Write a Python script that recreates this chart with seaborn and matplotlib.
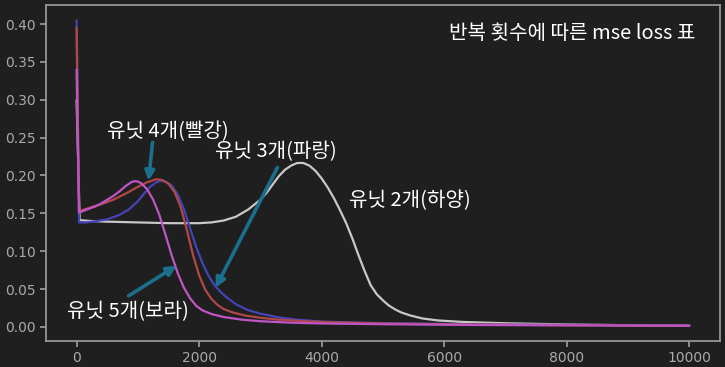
import pandas as pd
import seaborn as sns
import matplotlib.pyplot as plt

# 반복 횟수(iteration)별 mse loss 값
iter_2 = [0, 50, 200, 500, 1000, 1500, 2000, 2200, 2400, 2600, 2800, 3000, 3100, 3200, 3300,
          3400, 3500, 3600, 3700, 3800, 3900, 4000, 4100, 4200, 4300, 4400, 4500, 4600, 4700,
          4800, 4900, 5000, 5100, 5200, 5300, 5450, 5650, 5900, 6300, 7000, 8000, 9000, 10000]
loss_2 = [0.300, 0.141, 0.140, 0.139, 0.138, 0.137, 0.137, 0.138, 0.1405, 0.1455, 0.155, 0.168,
          0.177, 0.188, 0.199, 0.2075, 0.213, 0.2165, 0.2165, 0.213, 0.206, 0.196, 0.184, 0.170,
          0.154, 0.137, 0.117, 0.095, 0.074, 0.055, 0.043, 0.035, 0.028, 0.023, 0.019, 0.015,
          0.011, 0.0085, 0.0065, 0.0048, 0.0032, 0.0022, 0.0015]

iter_3 = [0, 40, 150, 300, 500, 700, 850, 1000, 1100, 1200, 1300, 1380, 1450, 1550, 1650, 1750,
          1850, 1950, 2050, 2150, 2250, 2350, 2450, 2600, 2800, 3000, 3300, 3600, 4000, 4500,
          5000, 6000, 7000, 8500, 10000]
loss_3 = [0.405, 0.138, 0.138, 0.1395, 0.142, 0.148, 0.155, 0.166, 0.176, 0.185, 0.191, 0.193,
          0.192, 0.187, 0.175, 0.156, 0.131, 0.106, 0.085, 0.068, 0.055, 0.046, 0.039, 0.030,
          0.022, 0.0175, 0.0125, 0.0095, 0.007, 0.0058, 0.005, 0.004, 0.003, 0.0025, 0.002]

iter_4 = [0, 40, 200, 400, 600, 800, 1000, 1150, 1300, 1400, 1500, 1600, 1700, 1800, 1900,
          2000, 2100, 2200, 2300, 2400, 2550, 2750, 3000, 3300, 3700, 4200, 5000, 6000, 7500,
          10000]
loss_4 = [0.395, 0.153, 0.157, 0.162, 0.168, 0.176, 0.185, 0.191, 0.195, 0.194, 0.189, 0.178,
          0.158, 0.128, 0.095, 0.068, 0.049, 0.037, 0.029, 0.0235, 0.019, 0.015, 0.012, 0.0095,
          0.0075, 0.006, 0.0045, 0.0035, 0.0025, 0.0015]

iter_5 = [0, 40, 200, 300, 400, 500, 600, 700, 800, 900, 950, 1000, 1050, 1150, 1250, 1350,
          1450, 1550, 1650, 1750, 1850, 1950, 2050, 2200, 2400, 2700, 3000, 3500, 4000, 5000,
          6500, 8000, 10000]
loss_5 = [0.340, 0.151, 0.156, 0.159, 0.163, 0.168, 0.173, 0.179, 0.186, 0.1915, 0.1925, 0.192,
          0.190, 0.182, 0.168, 0.148, 0.122, 0.095, 0.071, 0.052, 0.038, 0.028, 0.022, 0.017,
          0.013, 0.0095, 0.0075, 0.0055, 0.0045, 0.0035, 0.0025, 0.002, 0.0015]

series = [
    ("유닛 2개", iter_2, loss_2, "#c8c8c8"),
    ("유닛 3개", iter_3, loss_3, "#4444b8"),
    ("유닛 4개", iter_4, loss_4, "#b04848"),
    ("유닛 5개", iter_5, loss_5, "#c055c5"),
]

bg = "#1f1f1f"
sns.set_theme(style="dark", rc={
    "figure.facecolor": bg, "axes.facecolor": bg, "axes.edgecolor": "#9a9a9a",
    "xtick.color": "#aaaaaa", "ytick.color": "#aaaaaa",
    "axes.labelcolor": "#aaaaaa", "xtick.bottom": True, "ytick.left": True,
})
plt.rcParams['font.family'] = ['DejaVu Sans']

fig = plt.figure(figsize=(7.25, 3.67), dpi=100)
ax = fig.add_axes([0.0634, 0.0708, 0.9296, 0.9155])

for name, xs, ys, c in series:
    d = pd.DataFrame({"iter": xs, "loss": ys})
    sns.lineplot(data=d, x="iter", y="loss", color=c, lw=1.6, ax=ax)

ax.set_xlabel("")
ax.set_ylabel("")
ax.set_xticks([0, 2000, 4000, 6000, 8000, 10000])
ax.set_yticks([0.0, 0.05, 0.10, 0.15, 0.20, 0.25, 0.30, 0.35, 0.40])
ax.yaxis.set_major_formatter(plt.FormatStrFormatter("%.2f"))
ax.tick_params(labelsize=10, length=4, color="#9a9a9a", pad=3)
ax.margins(x=0.05, y=0.05)

kr = ['Noto Sans CJK KR', 'DejaVu Sans']
arrow_c = "#1b6f8c"
aprops = dict(arrowstyle="-|>", color=arrow_c, lw=2.6, mutation_scale=14, shrinkA=0, shrinkB=0)

ax.annotate("", xy=(1175, 0.193), xytext=(1240, 0.2437), arrowprops=aprops)
ax.annotate("", xy=(2268, 0.0517), xytext=(3279, 0.2106), arrowprops=aprops)
ax.annotate("", xy=(1631, 0.0808), xytext=(848, 0.041), arrowprops=aprops)

tkw = dict(color="white", fontsize=14.5, family=kr, ha="center", va="center")
ax.text(1485, 0.258, "유닛 4개(빨강)", **tkw)
ax.text(3246, 0.232, "유닛 3개(파랑)", **tkw)
ax.text(832, 0.0199, "유닛 5개(보라)", **tkw)
ax.text(5432, 0.167, "유닛 2개(하양)", **tkw)
ax.text(8091, 0.388, "반복 횟수에 따른 mse loss 표", color="white", fontsize=14.5,
        family=kr, ha="center", va="center")

plt.savefig("out.png", dpi=100, facecolor=bg)
